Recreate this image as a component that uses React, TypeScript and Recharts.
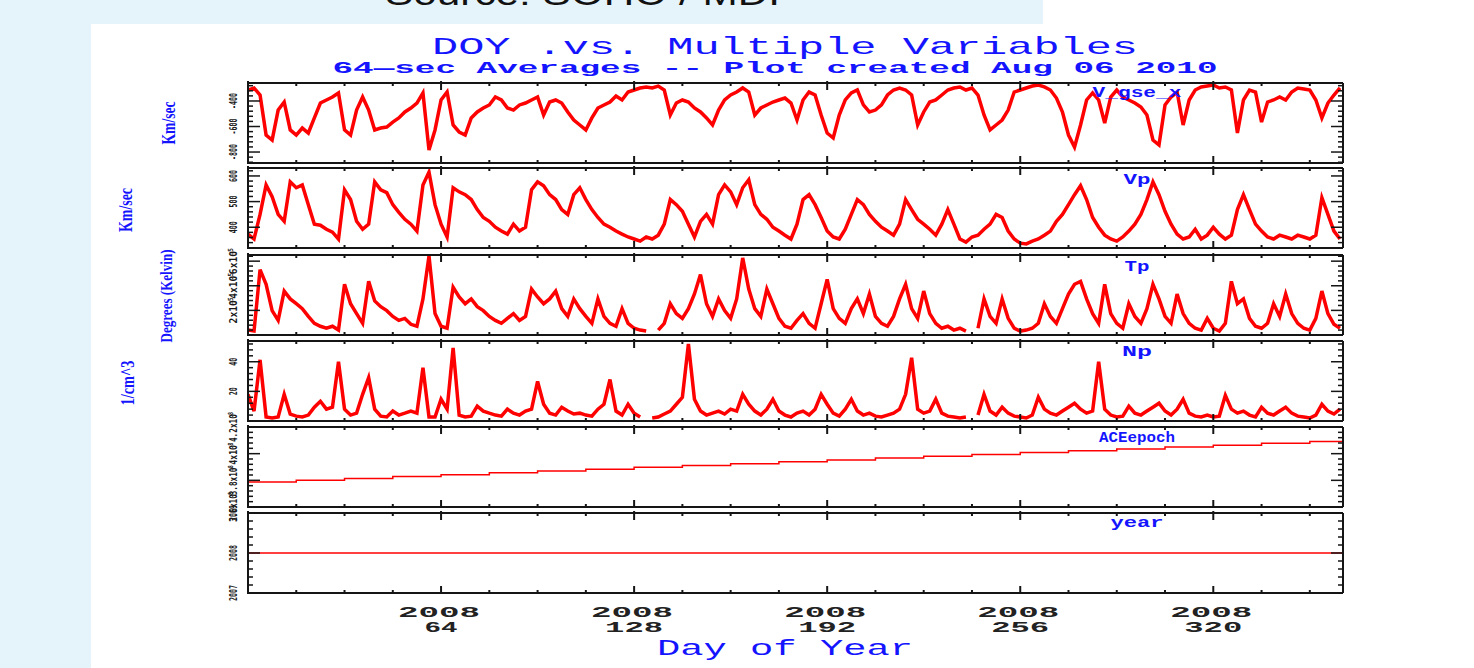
import React from "react";
import { LineChart, Line, XAxis, YAxis } from "recharts";

// day of year (2008), one sample every 2 days
const days = [
  0, 2, 4, 6, 8, 10, 12, 14, 16, 18, 20, 22, 24, 26, 28, 30, 32, 34, 36, 38,
  40, 42, 44, 46, 48, 50, 52, 54, 56, 58, 60, 62, 64, 66, 68, 70, 72, 74, 76, 78,
  80, 82, 84, 86, 88, 90, 92, 94, 96, 98, 100, 102, 104, 106, 108, 110, 112, 114, 116, 118,
  120, 122, 124, 126, 128, 130, 132, 134, 136, 138, 140, 142, 144, 146, 148, 150, 152, 154, 156, 158,
  160, 162, 164, 166, 168, 170, 172, 174, 176, 178, 180, 182, 184, 186, 188, 190, 192, 194, 196, 198,
  200, 202, 204, 206, 208, 210, 212, 214, 216, 218, 220, 222, 224, 226, 228, 230, 232, 234, 236, 238,
  240, 242, 244, 246, 248, 250, 252, 254, 256, 258, 260, 262, 264, 266, 268, 270, 272, 274, 276, 278,
  280, 282, 284, 286, 288, 290, 292, 294, 296, 298, 300, 302, 304, 306, 308, 310, 312, 314, 316, 318,
  320, 322, 324, 326, 328, 330, 332, 334, 336, 338, 340, 342, 344, 346, 348, 350, 352, 354, 356, 358,
  360, 362,
];

// V_gse_x, km/sec
const vGseX = [
  -314, -298, -353, -667, -706, -471, -408, -627, -667, -612,
  -651, -533, -416, -392, -369, -337, -627, -667, -471, -369,
  -471, -627, -612, -604, -565, -533, -486, -455, -416, -337,
  -784, -627, -392, -330, -588, -643, -667, -533, -486, -455,
  -431, -369, -392, -455, -471, -431, -416, -392, -369, -510,
  -408, -392, -416, -486, -549, -588, -627, -533, -455, -431,
  -408, -361, -392, -330, -314, -298, -290, -298, -283, -314,
  -510, -416, -392, -408, -455, -486, -533, -588, -471, -392,
  -353, -330, -298, -330, -510, -455, -431, -408, -392, -377,
  -416, -549, -392, -330, -353, -510, -651, -690, -510, -392,
  -337, -314, -431, -486, -471, -431, -353, -314, -298, -314,
  -353, -588, -486, -408, -392, -353, -314, -298, -290, -314,
  -298, -353, -510, -627, -588, -549, -471, -330, -314, -298,
  -283, -275, -290, -314, -377, -486, -667, -761, -588, -392,
  -337, -392, -573, -369, -314, -369, -392, -416, -447, -510,
  -706, -745, -431, -369, -330, -588, -392, -314, -290, -283,
  -275, -298, -290, -314, -651, -392, -314, -330, -565, -408,
  -392, -369, -392, -330, -298, -306, -314, -392, -533, -416,
  -353, -298,
];

// Vp, km/sec
const vp = [
  373, 354, 450, 565, 519, 450, 423, 577, 554, 565,
  488, 412, 408, 392, 381, 354, 546, 508, 423, 392,
  412, 577, 546, 535, 488, 458, 431, 412, 385, 565,
  615, 488, 412, 362, 554, 538, 527, 508, 469, 438,
  423, 400, 385, 373, 412, 385, 400, 546, 577, 562,
  527, 508, 469, 450, 527, 554, 508, 469, 438, 412,
  400, 385, 373, 362, 354, 346, 362, 354, 369, 412,
  508, 488, 462, 412, 362, 423, 450, 412, 527, 565,
  538, 488, 554, 585, 488, 450, 431, 400, 385, 369,
  354, 412, 508, 527, 488, 438, 385, 362, 354, 392,
  450, 508, 488, 450, 423, 400, 385, 369, 412, 508,
  469, 431, 412, 392, 369, 412, 469, 412, 354, 342,
  362, 369, 392, 412, 450, 438, 385, 354, 338, 335,
  346, 354, 369, 385, 423, 450, 488, 527, 562, 508,
  438, 400, 369, 354, 346, 362, 385, 412, 450, 508,
  577, 527, 462, 412, 373, 354, 362, 392, 354, 369,
  400, 373, 354, 369, 469, 527, 469, 412, 385, 362,
  354, 369, 362, 354, 369, 362, 354, 369, 515, 450,
  385, 354,
];

// Tp, Kelvin
const tp = [
  40000, 32000, 531000, 412000, 198000, 119000, 357000, 293000, 254000, 214000,
  151000, 95000, 71000, 55000, 71000, 40000, 412000, 254000, 174000, 95000,
  436000, 277000, 230000, 198000, 151000, 119000, 135000, 87000, 71000, 293000,
  642000, 174000, 71000, 55000, 388000, 309000, 254000, 293000, 230000, 198000,
  151000, 119000, 95000, 135000, 174000, 119000, 151000, 373000, 309000, 254000,
  293000, 357000, 214000, 151000, 293000, 214000, 151000, 95000, 293000, 151000,
  95000, 71000, 214000, 95000, 55000, 40000, 32000, null, 40000, 95000,
  254000, 174000, 135000, 214000, 333000, 491000, 254000, 151000, 293000, 198000,
  135000, 293000, 626000, 373000, 214000, 151000, 373000, 254000, 135000, 71000,
  55000, 119000, 174000, 95000, 55000, 254000, 452000, 214000, 135000, 95000,
  214000, 293000, 174000, 333000, 151000, 95000, 71000, 151000, 293000, 412000,
  214000, 135000, 357000, 174000, 95000, 55000, 71000, 40000, 55000, 32000,
  null, 55000, 293000, 151000, 95000, 293000, 135000, 55000, 32000, 40000,
  55000, 95000, 254000, 151000, 95000, 214000, 333000, 412000, 436000, 293000,
  174000, 95000, 412000, 174000, 95000, 55000, 254000, 151000, 95000, 214000,
  412000, 293000, 151000, 95000, 333000, 174000, 95000, 55000, 40000, 135000,
  55000, 32000, 95000, 436000, 254000, 293000, 135000, 71000, 55000, 95000,
  254000, 151000, 333000, 174000, 95000, 55000, 40000, 135000, 357000, 174000,
  87000, 55000,
];

// Np, 1/cm^3
const np = [
  18, 6.7, 41.3, 2.7, 2, 2.7, 18, 4.7, 3.3, 2.7,
  4, 9.3, 13.3, 8, 9.3, 40, 8, 4, 5.3, 18,
  29.3, 8, 3.3, 2.7, 6.7, 4, 5.3, 6.7, 5.3, 36,
  2.7, 2.7, 14.7, 8, 49.3, 4, 2.7, 3.3, 10, 6.7,
  5.3, 4, 3.3, 8, 5.3, 4, 6.7, 8, 26.7, 11.3,
  5.3, 4, 9.3, 6.7, 4.7, 5.3, 4, 3.3, 8, 11.3,
  28, 6.7, 4, 11.3, 5.3, 2.7, null, 2, 2.7, 4.7,
  6.7, 11.3, 16, 52, 14.7, 6.7, 4, 5.3, 6.7, 4.7,
  8, 6.7, 18, 11.3, 6.7, 4, 8, 14.7, 6.7, 4,
  2.7, 5.3, 6.7, 4, 8, 18, 11.3, 5.3, 3.3, 8,
  14.7, 6.7, 4, 5.3, 3.3, 2.7, 4, 5.3, 8, 18,
  42.7, 8, 5.3, 6.7, 14.7, 5.3, 3.3, 2.7, 2, 2.7,
  null, 4, 18, 6.7, 4, 9.3, 5.3, 3.3, 2.7, 2,
  4, 16, 8, 5.3, 4, 6.7, 9.3, 12, 8, 5.3,
  6.7, 40, 8, 4, 2.7, 3.3, 10, 5.3, 4, 6.7,
  9.3, 12, 6.7, 4, 8, 14.7, 5.3, 3.3, 2.7, 4,
  2.7, 3.3, 17.3, 8, 5.3, 6.7, 4, 2.7, 9.3, 5.3,
  4, 6.7, 9.3, 5.3, 3.3, 2.7, 2, 4, 11.3, 6.7,
  4.7, 8,
];

// ACEepoch, seconds
const epochDays = [0, 16, 32, 48, 64, 80, 96, 112, 128, 144, 160, 176, 192, 208, 224, 240, 256, 272, 288, 304, 320, 336, 352, 363];
const aceEpoch = [
  378.69e6, 380.07e6, 381.45e6, 382.84e6, 384.22e6, 385.6e6, 386.99e6, 388.37e6,
  389.75e6, 391.13e6, 392.52e6, 393.9e6, 395.28e6, 396.67e6, 398.05e6, 399.43e6,
  400.81e6, 402.2e6, 403.58e6, 404.96e6, 406.35e6, 407.73e6, 409.11e6, 410.06e6,
];

// year
const yearDays = [0, 363];
const yearVals = [2008, 2008];

const dayTicks = [0, 16, 32, 48, 64, 80, 96, 112, 128, 144, 160, 176, 192, 208, 224, 240, 256, 272, 288, 304, 320, 336, 352];
const dayLabels = [64, 128, 192, 256, 320];

const W = 1474;
const H = 668;
const L = 248;
const R = 1343;
const PH = 80;
const PAD = 22;
const INK = "#151515";
const BLUE = "#1414ff";
const RED = "#ff0000";

const rows = (xs: number[], ys: (number | null)[]) => xs.map((d, i) => ({ day: d, v: ys[i] }));

const sup = (m: string, e: string) => (
  <>
    {m}x10<tspan dx={-1} dy={-4} fontSize={7}>{e}</tspan>
  </>
);

type Fmt = (v: number) => { node: React.ReactNode; len: number };

function bottomTick(last: boolean) {
  return (props: any) => {
    const { x, y, payload } = props;
    const d = payload.value as number;
    const major = d % 64 === 0;
    const lab = last && dayLabels.includes(d);
    return (
      <g>
        <line x1={x} x2={x} y1={y + 1} y2={y - (major ? 7 : 3)} stroke={INK} strokeWidth={2} />
        {lab && (
          <text x={x - 2} y={y + 24} textAnchor="middle" fontFamily="Liberation Mono" fontWeight="bold" fontSize={15} fill="#222" textLength={82} lengthAdjust="spacingAndGlyphs">
            2008
          </text>
        )}
        {lab && (
          <text x={x} y={y + 39} textAnchor="middle" fontFamily="Liberation Mono" fontWeight="bold" fontSize={15} fill="#222" textLength={String(d).length === 2 ? 33 : 58} lengthAdjust="spacingAndGlyphs">
            {d}
          </text>
        )}
      </g>
    );
  };
}

function topTick(props: any) {
  const { x, y, payload } = props;
  const major = (payload.value as number) % 64 === 0;
  return <line x1={x} x2={x} y1={y - (major ? 2 : 0)} y2={y + (major ? 7 : 3)} stroke={INK} strokeWidth={2} />;
}

function leftTick(majors: number[], fmt: Fmt) {
  return (props: any) => {
    const { x, y, payload } = props;
    const v = payload.value as number;
    const major = majors.includes(v);
    const f = major ? fmt(v) : null;
    return (
      <g>
        <line x1={x} x2={x + (major ? 12 : 5)} y1={y} y2={y} stroke={INK} strokeWidth={1.5} />
        {f && (
          <text
            x={0}
            y={0}
            transform={`translate(${x - 11},${y}) rotate(-90)`}
            textAnchor="middle"
            fontFamily="DejaVu Sans Mono"
            fontWeight="bold"
            fontSize={11}
            fill="#1a1a1a"
            textLength={f.len}
            lengthAdjust="spacingAndGlyphs"
          >
            {f.node}
          </text>
        )}
      </g>
    );
  };
}

function rightTick(majors: number[]) {
  return (props: any) => {
    const { x, y, payload } = props;
    const major = majors.includes(payload.value as number);
    return <line x1={x} x2={x - (major ? 12 : 5)} y1={y} y2={y} stroke={INK} strokeWidth={1.5} />;
  };
}

type PanelProps = {
  top: number;
  data: { day: number; v: number | null }[];
  domain: [number, number];
  ticks: number[];
  majors: number[];
  fmt: Fmt;
  curve?: "stepAfter" | "linear";
  width?: number;
  last?: boolean;
};

function Panel(p: PanelProps) {
  const extra = p.last ? 40 : 0;
  const h = PH + PAD * 2 + extra;
  const frame = { stroke: INK, strokeWidth: 2 };
  return (
    <div style={{ position: "absolute", left: 0, top: p.top - PAD, width: W, height: h }}>
      <LineChart width={W} height={h} data={p.data} margin={{ top: PAD - 1, bottom: PAD + extra - 1, left: L - 1, right: W - R - 1 }}>
        <XAxis xAxisId="b" dataKey="day" type="number" domain={[0, 363]} allowDataOverflow ticks={dayTicks} interval={0} height={1} tickSize={0} tickMargin={0} tickLine={false} axisLine={frame} tick={bottomTick(!!p.last)} />
        <XAxis xAxisId="t" orientation="top" dataKey="day" type="number" domain={[0, 363]} allowDataOverflow ticks={dayTicks} interval={0} height={1} tickSize={0} tickMargin={0} tickLine={false} axisLine={frame} tick={topTick} />
        <YAxis yAxisId="l" type="number" domain={p.domain} allowDataOverflow ticks={p.ticks} interval={0} width={1} tickSize={0} tickMargin={0} tickLine={false} axisLine={frame} tick={leftTick(p.majors, p.fmt)} />
        <YAxis yAxisId="r" orientation="right" type="number" domain={p.domain} allowDataOverflow ticks={p.ticks} interval={0} width={1} tickSize={0} tickMargin={0} tickLine={false} axisLine={frame} tick={rightTick(p.majors)} />
        <Line xAxisId="b" yAxisId="l" dataKey="v" type={p.curve ?? "linear"} stroke={RED} strokeWidth={p.width ?? 3.5} strokeLinejoin="miter" dot={false} isAnimationActive={false} connectNulls={false} />
      </LineChart>
    </div>
  );
}

const t1 = [-880, -840, -800, -760, -720, -680, -640, -600, -560, -520, -480, -440, -400, -360, -320, -280];
const t2 = [320, 340, 360, 380, 400, 420, 440, 460, 480, 500, 520, 540, 560, 580, 600, 620];
const t3 = [0, 40000, 80000, 120000, 160000, 200000, 240000, 280000, 320000, 360000, 400000, 440000, 480000, 520000, 560000, 600000, 640000];
const t4 = [0, 4, 8, 12, 16, 20, 24, 28, 32, 36, 40, 44, 48, 52];
const t5 = [360e6, 364e6, 368e6, 372e6, 376e6, 380e6, 384e6, 388e6, 392e6, 396e6, 400e6, 404e6, 408e6, 412e6, 416e6, 420e6];
const t6 = [2007, 2007.2, 2007.4, 2007.6, 2007.8, 2008, 2008.2, 2008.4, 2008.6, 2008.8, 2009];

const plain: Fmt = (v) => ({ node: String(v), len: String(v).length * 4 });
const fmtTp: Fmt = (v) => ({ node: sup(String(v / 1e5), "5"), len: 26 });
const fmtEp: Fmt = (v) => {
  const m = (v / 1e8).toFixed(1).replace(".0", "");
  return { node: sup(m, "8"), len: m.length * 4 + 18 };
};

function RotText({ x, y, len, size, children }: { x: number; y: number; len: number; size: number; children: React.ReactNode }) {
  return (
    <text x={0} y={0} transform={`translate(${x},${y}) rotate(-90)`} textAnchor="middle" fontFamily="Liberation Serif" fontWeight="bold" fontSize={size} fill={BLUE} textLength={len} lengthAdjust="spacingAndGlyphs">
      {children}
    </text>
  );
}

function Tag({ y, text, len }: { y: number; text: string; len: number }) {
  return (
    <text x={1137} y={y} textAnchor="middle" fontFamily="Liberation Mono" fontWeight="bold" fontSize={14} fill={BLUE} textLength={len} lengthAdjust="spacingAndGlyphs">
      {text}
    </text>
  );
}

export default function App() {
  return (
    <div style={{ position: "absolute", left: 0, top: 0, width: W, height: H, overflow: "hidden", background: "#e5f3fb" }}>
      <div style={{ position: "absolute", left: 91, top: 24, width: W - 91, height: H - 24, background: "#fff" }} />
      <div style={{ position: "absolute", left: 1043, top: 0, width: W - 1043, height: 24, background: "#fff" }} />

      <Panel top={83} data={rows(days, vGseX)} domain={[-886, -259]} ticks={t1} majors={[-800, -600, -400]} fmt={plain} />
      <Panel top={168} data={rows(days, vp)} domain={[319, 631]} ticks={t2} majors={[400, 500, 600]} fmt={plain} />
      <Panel top={255} data={rows(days, tp)} domain={[0, 650000]} ticks={t3} majors={[200000, 400000, 600000]} fmt={fmtTp} />
      <Panel top={341} data={rows(days, np)} domain={[0, 54]} ticks={t4} majors={[20, 40]} fmt={plain} />
      <Panel top={427} data={rows(epochDays, aceEpoch)} domain={[360e6, 420e6]} ticks={t5} majors={[360e6, 380e6, 400e6, 420e6]} fmt={fmtEp} curve="stepAfter" width={1.5} />
      <Panel top={513} data={rows(yearDays, yearVals)} domain={[2007, 2009]} ticks={t6} majors={[2007, 2008, 2009]} fmt={plain} width={1.5} last />

      <svg width={W} height={H} style={{ position: "absolute", left: 0, top: 0, pointerEvents: "none" }}>
        <text x={385} y={5} fontFamily="Liberation Sans" fontSize={34} fill="#111" textLength={395} lengthAdjust="spacingAndGlyphs">
          Source: SOHO / MDI
        </text>
        <text x={785} y={54} textAnchor="middle" fontFamily="Liberation Mono" fontSize={24} fill={BLUE} textLength={706} lengthAdjust="spacingAndGlyphs">
          DOY .vs. Multiple Variables
        </text>
        <text x={775} y={73} textAnchor="middle" fontFamily="Liberation Mono" fontWeight="bold" fontSize={17} fill={BLUE} textLength={885} lengthAdjust="spacingAndGlyphs">
          64—sec Averages -- Plot created Aug 06 2010
        </text>
        <Tag y={97} text="V_gse_x" len={89} />
        <Tag y={184} text="Vp" len={27} />
        <Tag y={271} text="Tp" len={25} />
        <Tag y={356} text="Np" len={30} />
        <Tag y={442} text="ACEepoch" len={76} />
        <Tag y={527} text="year" len={53} />
        <RotText x={175} y={123} len={43} size={19}>Km/sec</RotText>
        <RotText x={132} y={210} len={44} size={19}>Km/sec</RotText>
        <RotText x={172} y={296} len={93} size={17}>Degrees (Kelvin)</RotText>
        <RotText x={134} y={383} len={45} size={19}>1/cm^3</RotText>
        <text x={785} y={655} textAnchor="middle" fontFamily="Liberation Mono" fontSize={22} fill={BLUE} textLength={256} lengthAdjust="spacingAndGlyphs">
          Day of Year
        </text>
      </svg>
    </div>
  );
}
